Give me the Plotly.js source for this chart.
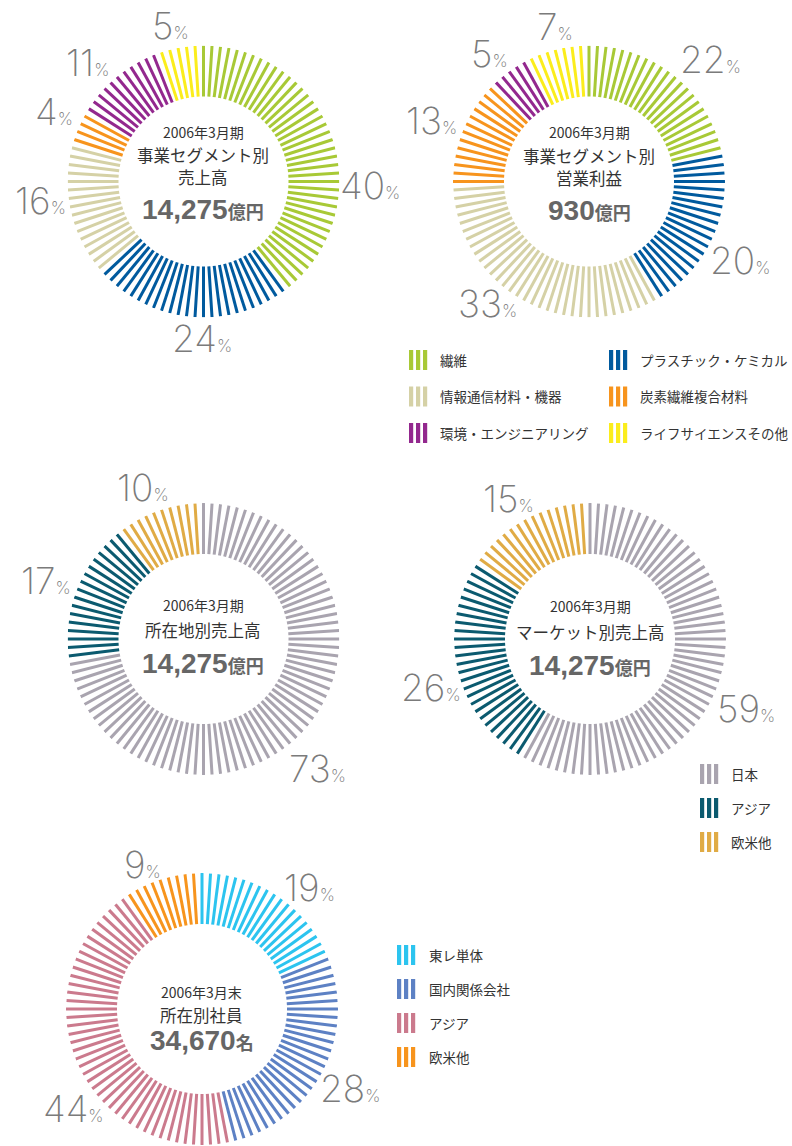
<!DOCTYPE html>
<html><head><meta charset="utf-8">
<script src="https://cdn.plot.ly/plotly-3.0.1.min.js"></script>
<style>body{margin:0;background:#fff}#chart{width:792px;height:1146px}</style>
</head><body><div id="chart"></div>
<script>
// ---- data ----
const segNames = ['繊維','プラスチック・ケミカル','情報通信材料・機器','炭素繊維複合材料','環境・エンジニアリング','ライフサイエンスその他'];
const segSales = [40,24,16,4,11,5];
const segProfit = [22,20,33,13,5,7];
const regionNames = ['日本','アジア','欧米他'];
const locationSales = [73,17,10];
const marketSales = [59,26,15];
const staffNames = ['東レ単体','国内関係会社','アジア','欧米他'];
const staffShares = [19,28,44,9];
const segColors = ['#a8c936','#005a9e','#d5d1a6','#f7941d','#93288e','#fbed1c'];
const regionColors = ['#a9a4af','#0b5a6f','#e0ab45'];
const staffColors = ['#2cc4ef','#5d81c4','#cb7a8d','#f7941d'];

// ---- layout helpers ----
const W = 792, H = 1146, RIN = 85, ROUT = 136;
const px = v => v / W, py = v => 1 - v / H;
const JP = '"Noto Sans CJK JP", sans-serif';
const NUM = '"Liberation Sans", Arial, "Noto Sans CJK JP", sans-serif';
const THIN = 'Inter, Lato, "Noto Sans", sans-serif';

const charts = [
  {values: segSales, colors: segColors, cx: 203.5, cy: 181.5,
   lines: [['2006年3月期',132],['事業セグメント別',155],['売上高',177]], big: ['14,275','億円',209],
   labels: [[370,185],[202,338],[40,200],[54,112],[87,62],[170,25]]},
  {values: segProfit, colors: segColors, cx: 589, cy: 181.5,
   lines: [['2006年3月期',132],['事業セグメント別',156],['営業利益',178]], big: ['930','億円',210],
   labels: [[710,60],[740,260],[487,303],[431,120],[489,53],[555,27]]},
  {values: locationSales, colors: regionColors, cx: 203.5, cy: 639,
   lines: [['2006年3月期',605],['所在地別売上高',630]], big: ['14,275','億円',663],
   labels: [[317,768],[46,580],[143,487]]},
  {values: marketSales, colors: regionColors, cx: 590, cy: 639,
   lines: [['2006年3月期',606],['マーケット別売上高',632]], big: ['14,275','億円',665],
   labels: [[746,708],[431,687],[508,499]]},
  {values: staffShares, colors: staffColors, cx: 202, cy: 1009,
   lines: [['2006年3月末',992],['所在別社員',1015]], big: ['34,670','名',1040],
   labels: [[309,887],[350,1088],[73,1108],[142,864]]}
];

const data = [], annotations = [], shapes = [];
const layout = {width: W, height: H, margin: {l:0,r:0,t:0,b:0}, showlegend: false,
  paper_bgcolor: '#fff', plot_bgcolor: '#fff', hovermode: false};

charts.forEach((c, ci) => {
  const sp = ci === 0 ? 'polar' : 'polar' + (ci + 1);
  layout[sp] = {
    domain: {x: [px(c.cx - ROUT), px(c.cx + ROUT)], y: [py(c.cy + ROUT), py(c.cy - ROUT)]},
    bgcolor: 'rgba(0,0,0,0)',
    radialaxis: {visible: false, range: [0, ROUT]},
    angularaxis: {visible: false, rotation: 90, direction: 'clockwise'}
  };
  const total = c.values.reduce((a, b) => a + b, 0);
  let k = 0;
  c.values.forEach((v, i) => {
    const r = [], th = [];
    for (let j = 0; j < v; j++) {
      const a = (k + j) * 360 / total;
      r.push(RIN, ROUT, null); th.push(a, a, null);
    }
    k += v;
    data.push({type: 'scatterpolar', subplot: sp, mode: 'lines', r, theta: th,
      line: {color: c.colors[i], width: 3}, hoverinfo: 'skip', connectgaps: false});
    const [lx, ly] = c.labels[i];
    annotations.push({xref: 'paper', yref: 'paper', x: px(lx), y: py(ly), xanchor: 'center', yanchor: 'middle',
      showarrow: false, text: v + '<span style="font-size:17px">%</span>',
      font: {family: THIN, size: 37, color: '#7b7b7b', weight: 200}});
  });
  c.lines.forEach(([t, y], li) => {
    annotations.push({xref: 'paper', yref: 'paper', x: px(c.cx), y: py(y), xanchor: 'center', yanchor: 'middle',
      showarrow: false, text: t, font: {family: JP, size: li === 0 ? 14 : 16.5, color: '#333'}});
  });
  annotations.push({xref: 'paper', yref: 'paper', x: px(c.cx), y: py(c.big[2]), xanchor: 'center', yanchor: 'middle',
    showarrow: false, text: '<b>' + c.big[0] + '</b><span style="font-size:18px;font-family:\'Noto Sans CJK JP\'"><b>' + c.big[1] + '</b></span>',
    font: {family: NUM, size: 28, color: '#666'}});
});

// ---- legends ----
function swatch(x, y, color) {
  for (let b = 0; b < 3; b++) {
    shapes.push({type: 'rect', xref: 'paper', yref: 'paper', x0: px(x + b * 7), x1: px(x + b * 7 + 4.2),
      y0: py(y + 10), y1: py(y - 10), fillcolor: color, line: {width: 0}});
  }
}
function legendText(x, y, t) {
  annotations.push({xref: 'paper', yref: 'paper', x: px(x), y: py(y), xanchor: 'left', yanchor: 'middle',
    showarrow: false, text: t, font: {family: JP, size: 13.5, color: '#333'}});
}
segNames.forEach((n, i) => {
  const col = i % 2, row = Math.floor(i / 2);
  const x = col === 0 ? 409 : 609, y = 360 + row * 36.5;
  swatch(x, y, segColors[i]); legendText(x + 29, y, n);
});
regionNames.forEach((n, i) => {
  const y = 774 + i * 34;
  swatch(700, y, regionColors[i]); legendText(729, y, n);
});
staffNames.forEach((n, i) => {
  const y = 955 + i * 34;
  swatch(397, y, staffColors[i]); legendText(427, y, n);
});

layout.annotations = annotations;
layout.shapes = shapes;
Plotly.newPlot('chart', data, layout, {staticPlot: true, displayModeBar: false});
</script>
</body></html>
